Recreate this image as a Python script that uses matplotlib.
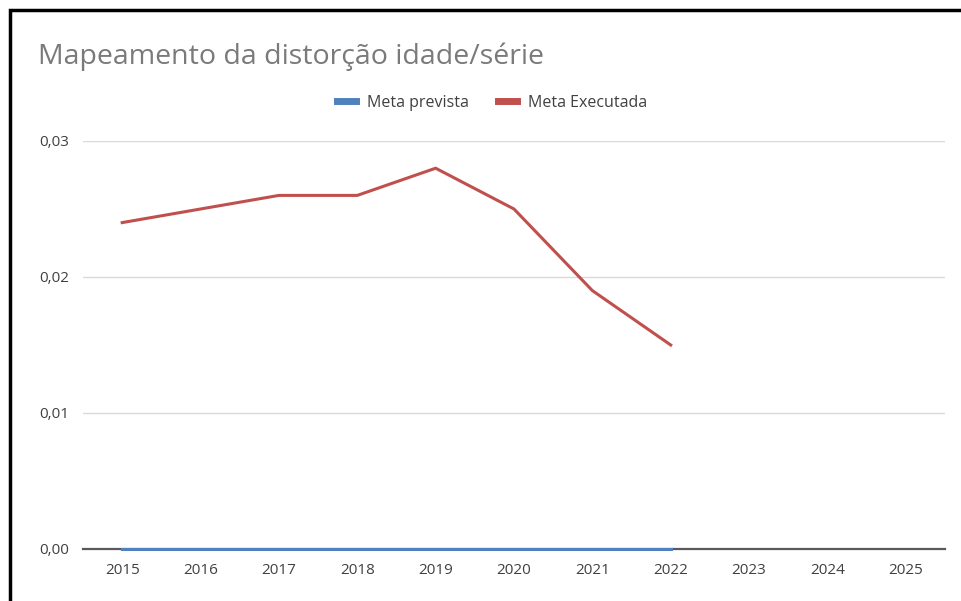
import matplotlib
matplotlib.use("Agg")
from matplotlib import pyplot as plt
from matplotlib.patches import Rectangle
from matplotlib.ticker import FuncFormatter

years = [2015, 2016, 2017, 2018, 2019, 2020, 2021, 2022, 2023, 2024, 2025]
meta_years = [2015, 2016, 2017, 2018, 2019, 2020, 2021, 2022]
meta_prevista = [0, 0, 0, 0, 0, 0, 0, 0]
meta_executada = [0.024, 0.025, 0.026, 0.026, 0.028, 0.025, 0.019, 0.015]
y_ticks = [0.0, 0.01, 0.02, 0.03]

plt.rcParams['font.family'] = ['Open Sans', 'DejaVu Sans']

fig = plt.figure(figsize=(9.61, 6.01), dpi=100)
ax = fig.add_axes([83 / 961, 1 - 549 / 601, (945 - 83) / 961, (549 - 141) / 601])

ax.plot(meta_years, meta_prevista, color='#4f81bd', lw=2.2, label='Meta prevista',
        clip_on=False, zorder=4)
ax.plot(meta_years, meta_executada, color='#c0504d', lw=2.2, label='Meta Executada',
        clip_on=False, zorder=5)

ax.set_xlim(2014.5, 2025.5)
ax.set_ylim(0, 0.03)
ax.set_xticks(years)
ax.set_yticks(y_ticks)
ax.yaxis.set_major_formatter(FuncFormatter(lambda v, p: ('%.2f' % v).replace('.', ',')))
ax.grid(axis='y', color='#d9d9d9', lw=1)
ax.set_axisbelow(True)
for s in ['top', 'right', 'left']:
    ax.spines[s].set_visible(False)
ax.spines['bottom'].set_color('#595959')
ax.spines['bottom'].set_linewidth(1.6)
ax.spines['bottom'].set_zorder(3)
ax.tick_params(axis='both', length=0, labelsize=11, colors='#404040')
ax.tick_params(axis='x', pad=10)
ax.tick_params(axis='y', pad=10)

fig.text(38 / 961, 1 - 57 / 601, 'Mapeamento da distorção idade/série', fontsize=20.5,
         color='#7a7a7a', va='center', ha='left')

handles, labels = ax.get_legend_handles_labels()
fig.legend(handles, labels, loc='center', bbox_to_anchor=(492 / 961, 1 - 103 / 601), ncol=2,
           frameon=False, fontsize=11.5, handlelength=1.2, handletextpad=0.7,
           columnspacing=1.8, labelcolor='#404040')
for h in fig.legends[0].get_lines():
    h.set_linewidth(5)

# black frame around the chart (cut off at right and bottom)
fig.patches.append(Rectangle((10 / 961, -0.1), 1.2, 1 - 10 / 601 + 0.1, transform=fig.transFigure,
                             fill=False, edgecolor='black', lw=2.5))

fig.savefig('out.png', dpi=100)
